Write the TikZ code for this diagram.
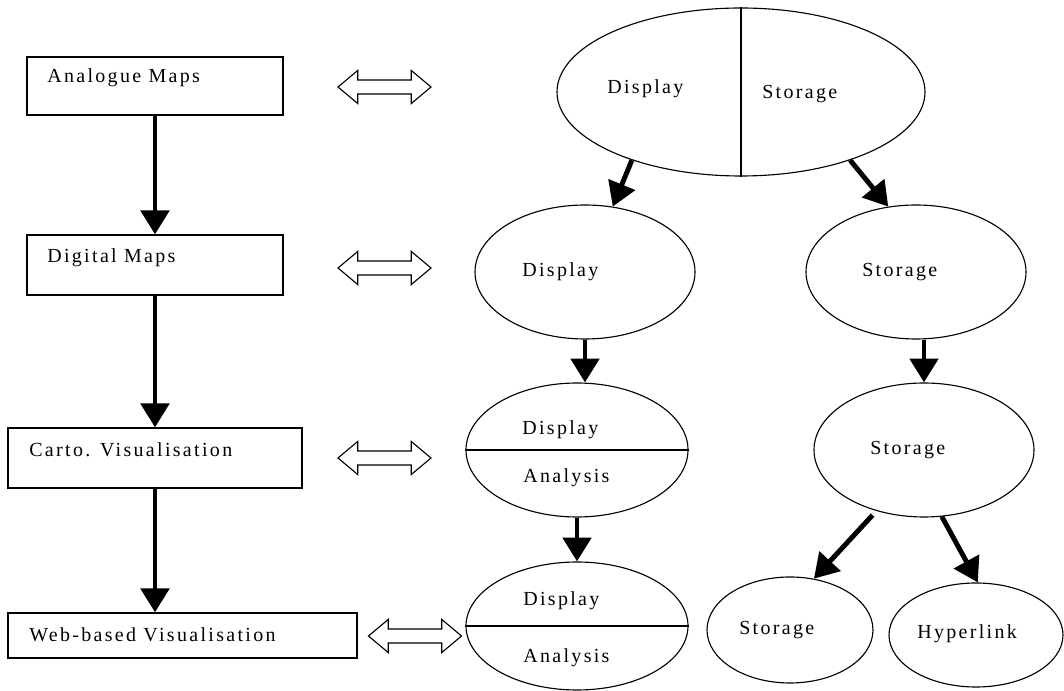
\documentclass[tikz,border=0pt]{standalone}
\usepackage{fontspec}
\setmainfont{Liberation Serif}[LetterSpace=11.7]
\usetikzlibrary{arrows.meta,shapes.geometric,shapes.arrows}

\begin{document}
\begin{tikzpicture}[scale=0.25]
\tikzstyle{every node}+=[inner sep=0pt, font=\fontsize{14.2}{17}\selectfont]
\tikzstyle{box}=[draw, rectangle, line width=0.9pt]
\tikzstyle{oval}=[draw, ellipse, line width=0.8pt]
\tikzstyle{lbl}=[anchor=base west]
\tikzstyle{link}=[draw, double arrow, fill=white, line width=0.8pt, inner ysep=0.16cm, minimum height=2.325cm, minimum width=0.8cm, double arrow head extend=0.24cm, double arrow tip angle=80]
\tikzstyle{flow}=[draw, line width=3.5pt, -{Triangle[length=17pt,width=20pt]}]
\useasboundingbox (0,0) rectangle (106.4,-69.1);
\node [box, minimum width=6.4cm, minimum height=1.45cm] (ana) at (15.5,-8.6) {};
\node [box, minimum width=6.4cm, minimum height=1.5cm] (dig) at (15.5,-26.5) {};
\node [box, minimum width=7.35cm, minimum height=1.5cm] (carto) at (15.5,-45.8) {};
\node [box, minimum width=8.725cm, minimum height=1.125cm] (web) at (18.25,-63.55) {};
\node [lbl] (anatext) at (4.7,-8.3) {Analogue Maps};
\node [lbl] (digtext) at (4.7,-26.3) {Digital Maps};
\node [lbl] (cartotext) at (2.9,-45.7) {Carto. Visualisation};
\node [lbl] (webtext) at (2.9,-64.2) {Web-based Visualisation};
\draw [flow] (ana) -- (dig);
\draw [flow] (dig) -- (carto);
\draw [flow] (carto.south) -- (carto.south |- web.north);
\node [link] (l1) at (38.45,-8.7) {};
\node [link] (l2) at (38.45,-26.8) {};
\node [link] (l3) at (38.45,-45.8) {};
\node [link] (l4) at (41.5,-63.6) {};
\node [oval, minimum width=9.2cm, minimum height=4.2cm] (top) at (74.1,-9.2) {};
\draw [line width=0.8pt] (top.north) -- (top.south);
\node [lbl] (topdisp) at (60.7,-9.4) {Display};
\node [lbl] (topstor) at (76.2,-9.9) {Storage};
\node [oval, minimum width=5.5cm, minimum height=3.35cm] (disp) at (58.5,-27.2) {};
\node [lbl] (disptext) at (52.2,-27.7) {Display};
\node [oval, minimum width=5.5cm, minimum height=3.35cm] (stor) at (91.6,-27.2) {};
\node [lbl] (stortext) at (86.2,-27.7) {Storage};
\node [oval, minimum width=5.55cm, minimum height=3.35cm] (da1) at (57.7,-45) {};
\draw [line width=0.8pt] (da1.west) -- (da1.east);
\node [lbl] (da1disp) at (52.2,-43.5) {Display};
\node [lbl] (da1ana) at (52.3,-48.3) {Analysis};
\node [oval, minimum width=5.5cm, minimum height=3.35cm] (stor3) at (92.4,-45) {};
\node [lbl] (stor3text) at (87,-45.5) {Storage};
\node [oval, minimum width=5.55cm, minimum height=3.2cm] (da2) at (57.7,-62.6) {};
\draw [line width=0.8pt] (da2.west) -- (da2.east);
\node [lbl] (da2disp) at (52.3,-60.6) {Display};
\node [lbl] (da2ana) at (52.3,-66.3) {Analysis};
\node [oval, minimum width=4.15cm, minimum height=2.65cm] (leaf) at (79,-63) {};
\node [lbl] (leaftext) at (73.9,-63.5) {Storage};
\node [oval, minimum width=4.35cm, minimum height=2.6cm] (hyp) at (97.6,-63.5) {};
\node [lbl] (hyptext) at (91.7,-63.9) {Hyperlink};
\draw [flow] (top.212) -- (disp.67);
\draw [flow] (top.328) -- (stor.113);
\draw [flow] (disp.south) -- (disp.south |- da1.north);
\draw [flow] (stor3.north |- stor.south) -- (stor3.north);
\draw [flow] (da1.south) -- (da2.north);
\draw [flow, shorten <=4pt] (stor3.232) -- (leaf.65);
\draw [flow] (stor3.285) -- (hyp.88);
\end{tikzpicture}
\end{document}
